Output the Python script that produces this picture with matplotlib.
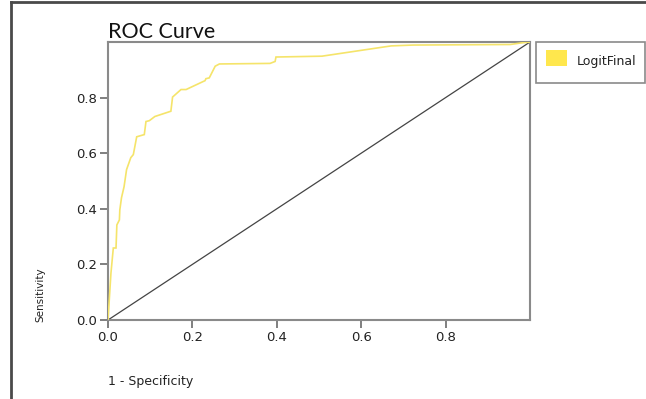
import matplotlib
matplotlib.use("Agg")
import matplotlib.pyplot as plt
from matplotlib.patches import Rectangle
from matplotlib.lines import Line2D

# ROC curve data (1 - specificity, sensitivity)
fpr = [0.0, 0.003, 0.007, 0.0126, 0.019, 0.021, 0.027, 0.028, 0.032, 0.038,
       0.044, 0.054, 0.060, 0.068, 0.086, 0.090, 0.098, 0.111, 0.149, 0.153,
       0.173, 0.185, 0.230, 0.232, 0.240, 0.254, 0.264, 0.384, 0.396, 0.398,
       0.507, 0.671, 0.723, 0.953, 0.981, 1.0]
tpr = [0.0, 0.072, 0.169, 0.259, 0.259, 0.342, 0.360, 0.396, 0.440, 0.479,
       0.541, 0.584, 0.595, 0.659, 0.667, 0.714, 0.717, 0.732, 0.751, 0.802,
       0.829, 0.829, 0.861, 0.868, 0.871, 0.913, 0.921, 0.923, 0.930, 0.946,
       0.949, 0.986, 0.989, 0.991, 0.997, 1.0]
ref_x = [0.0, 1.0]
ref_y = [0.0, 1.0]
ticks = [0.0, 0.2, 0.4, 0.6, 0.8]
tick_labels = ["0.0", "0.2", "0.4", "0.6", "0.8"]
series_name = "LogitFinal"

W, H = 646, 399
fig = plt.figure(figsize=(W / 100, H / 100), dpi=100)
fig.patch.set_facecolor("white")

ax = fig.add_axes([108 / W, 1 - 320 / H, (530 - 108) / W, (320 - 42) / H])
ax.plot(fpr, tpr, color="#F5E46A", lw=1.2, solid_joinstyle="miter", zorder=3)
ax.plot(ref_x, ref_y, color="#444444", lw=0.9, zorder=2)
ax.set_xlim(0, 1)
ax.set_ylim(0, 1)
ax.set_xticks(ticks)
ax.set_xticklabels(tick_labels)
ax.set_yticks(ticks)
ax.set_yticklabels(tick_labels)
for s in ax.spines.values():
    s.set_color("#8a8a8a")
    s.set_linewidth(1.5)
ax.tick_params(axis="both", direction="out", length=6, width=1.2,
               color="#6a6a6a", labelsize=9.5, labelcolor="#222222", pad=2)

fig.text(108 / W, 1 - 38 / H, "ROC Curve", fontsize=15.5, family=["Lato", "DejaVu Sans"],
         fontstretch="normal", color="#111111", ha="left", va="baseline")
fig.text(108 / W, 1 - 381 / H, "1 - Specificity", fontsize=9, color="#222222",
         ha="left", va="center")
fig.text(40 / W, 1 - 295 / H, "Sensitivity", fontsize=7.5, rotation=90,
         family=["Liberation Sans Narrow", "DejaVu Sans"], color="#222222",
         ha="center", va="center")

# legend box
fig.patches.append(Rectangle((536 / W, 1 - 83 / H), (645 - 536) / W, (83 - 42) / H,
                             transform=fig.transFigure, facecolor="white",
                             edgecolor="#8a8a8a", lw=1.2))
fig.patches.append(Rectangle((546 / W, 1 - 66 / H), 21 / W, 16 / H,
                             transform=fig.transFigure, facecolor="#FFE74D",
                             edgecolor="none"))
fig.text(577 / W, 1 - 62 / H, series_name, fontsize=9, color="#222222",
         ha="left", va="center")

# outer frame
fig.lines.append(Line2D([11 / W, 11 / W], [0, 1 - 2 / H], transform=fig.transFigure,
                        color="#4a4a4a", lw=2))
fig.lines.append(Line2D([11 / W, 1], [1 - 2 / H, 1 - 2 / H], transform=fig.transFigure,
                        color="#4a4a4a", lw=2))

fig.savefig("out.png", dpi=100)
